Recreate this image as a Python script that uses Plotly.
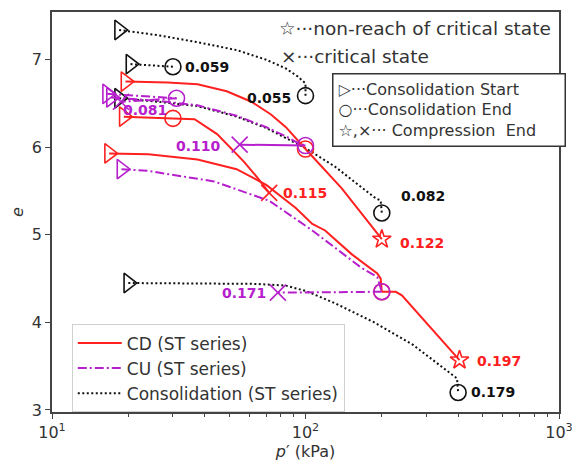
import numpy as np
import plotly.graph_objects as go

RED = "#ff2020"
PURPLE = "#b620cc"
BLACK = "#111111"

# ---- consolidation paths (black dotted), p' in kPa, e ----
cons1_p = [18.4, 26.2, 37.5, 53.5, 70.0, 83.7, 93.1, 98.2, 100.0, 100.0]
cons1_e = [7.34, 7.28, 7.20, 7.11, 7.00, 6.90, 6.81, 6.75, 6.73, 6.59]
cons2_p = [20.4, 30.0]
cons2_e = [6.95, 6.92]
cons3_p = [18.4, 26.2, 37.5, 53.5, 70.0, 83.7, 100.0, 130.6, 163.0, 186.7, 198.0, 200.0]
cons3_e = [6.56, 6.52, 6.47, 6.35, 6.22, 6.10, 5.99, 5.78, 5.56, 5.43, 5.39, 5.25]
cons4_p = [20.0, 37.5, 64.0, 83.7, 100.0, 130.6, 186.7, 266.6, 333.0, 381.0, 396.0, 400.0]
cons4_e = [4.45, 4.44, 4.44, 4.42, 4.36, 4.22, 4.00, 3.74, 3.53, 3.40, 3.36, 3.20]

# ---- CD tests (red solid) ----
cd1_cons_p = [19.5, 28.6, 37.5, 48.9, 61.2, 73.1, 83.7, 93.1, 100.0]
cd1_cons_e = [6.75, 6.74, 6.72, 6.64, 6.52, 6.375, 6.23, 6.08, 5.98]
cd1_shear_p = [100.0, 139.0, 200.0]
cd1_shear_e = [5.98, 5.53, 4.95]

cd2_cons_p = [19.2, 30.0]
cd2_cons_e = [6.35, 6.33]
cd2_shear_p = [30.0, 36.5, 44.8, 57.0, 65.2, 71.9]
cd2_shear_e = [6.33, 6.32, 6.15, 5.84, 5.64, 5.48]

cd3_cons_p = [16.8, 24.0, 37.5, 43.6, 53.5, 70.0, 91.3, 106.4, 119.5, 152.0, 191.9, 198.0, 200.0]
cd3_cons_e = [5.93, 5.92, 5.86, 5.81, 5.75, 5.57, 5.31, 5.125, 5.05, 4.78, 4.56, 4.50, 4.35]
cd3_shear_p = [200.0, 227.0, 240.0, 313.0, 405.0]
cd3_shear_e = [4.35, 4.35, 4.31, 3.94, 3.57]

# ---- CU tests (purple dash-dot) ----
cu1_cons_p = [16.5, 31.0]
cu1_cons_e = [6.61, 6.56]
cu1_shear_p = [31.0, 18.7]
cu1_shear_e = [6.56, 6.52]

cu2_cons_p = [17.1, 26.2, 37.5, 53.5, 70.0, 83.7, 93.1, 100.0]
cu2_cons_e = [6.57, 6.53, 6.48, 6.36, 6.23, 6.125, 6.05, 6.02]
cu2_shear_p = [100.0, 55.0]
cu2_shear_e = [6.02, 6.03]

cu3_cons_p = [18.8, 24.0, 43.6, 71.9, 106.4, 166.0, 191.9, 200.0]
cu3_cons_e = [5.75, 5.73, 5.61, 5.39, 5.05, 4.625, 4.52, 4.35]
cu3_shear_p = [200.0, 77.8]
cu3_shear_e = [4.35, 4.34]

# ---- index labels: text, p', e, anchor, colour ----
label_text = ["0.059", "0.055", "0.082", "0.179", "0.122", "0.197", "0.115", "0.110", "0.171", "0.081"]
label_p = [33.0, 89.1, 233.0, 443.0, 231.0, 468.0, 80.0, 47.2, 71.3, 23.3]
label_e = [6.92, 6.56, 5.44, 3.205, 4.91, 3.557, 5.48, 6.02, 4.34, 6.43]
label_anchor = ["left", "right", "left", "left", "left", "left", "left", "right", "right", "center"]
label_color = [BLACK, BLACK, BLACK, BLACK, RED, RED, RED, PURPLE, PURPLE, PURPLE]

fig = go.Figure()

DOT = "2px,2.5px"
DASHDOT = "9px,3px,2px,3px"


def path(p, e, color, dash):
    fig.add_trace(go.Scatter(x=p, y=e, mode="lines", showlegend=False,
                             line=dict(color=color, width=2, dash=dash),
                             hoverinfo="skip"))


def marker(p, e, color, symbol, size):
    fig.add_trace(go.Scatter(x=[p], y=[e], mode="markers", showlegend=False,
                             marker=dict(symbol=symbol, size=size, color=color,
                                         line=dict(color=color, width=1.6)),
                             hoverinfo="skip"))


# consolidation lines
for p, e in [(cons1_p, cons1_e), (cons2_p, cons2_e), (cons3_p, cons3_e), (cons4_p, cons4_e)]:
    path(p, e, BLACK, DOT)
    marker(p[0], e[0], BLACK, "triangle-right-open", 17)
    marker(p[-1], e[-1], BLACK, "circle-open", 16)

# CD lines
for cp, ce, sp, se, end_sym in [(cd1_cons_p, cd1_cons_e, cd1_shear_p, cd1_shear_e, "star-open"),
                                (cd2_cons_p, cd2_cons_e, cd2_shear_p, cd2_shear_e, "x-thin-open"),
                                (cd3_cons_p, cd3_cons_e, cd3_shear_p, cd3_shear_e, "star-open")]:
    path(cp, ce, RED, "solid")
    path(sp, se, RED, "solid")
    marker(cp[0], ce[0], RED, "triangle-right-open", 17)
    marker(cp[-1], ce[-1], RED, "circle-open", 16)
    marker(sp[-1], se[-1], RED, end_sym, 14 if end_sym == "star-open" else 16)

# CU lines
for cp, ce, sp, se in [(cu1_cons_p, cu1_cons_e, cu1_shear_p, cu1_shear_e),
                       (cu2_cons_p, cu2_cons_e, cu2_shear_p, cu2_shear_e),
                       (cu3_cons_p, cu3_cons_e, cu3_shear_p, cu3_shear_e)]:
    path(cp, ce, PURPLE, DASHDOT)
    path(sp, se, PURPLE, DASHDOT if sp is not cu2_shear_p else "solid")
    marker(cp[0], ce[0], PURPLE, "triangle-right-open", 17)
    marker(cp[-1], ce[-1], PURPLE, "circle-open", 16)
    marker(sp[-1], se[-1], PURPLE, "x-thin-open", 16)

# legend entries
fig.add_trace(go.Scatter(x=[None], y=[None], mode="lines", name="CD (ST series)",
                         line=dict(color=RED, width=2)))
fig.add_trace(go.Scatter(x=[None], y=[None], mode="lines", name="CU (ST series)",
                         line=dict(color=PURPLE, width=2, dash=DASHDOT)))
fig.add_trace(go.Scatter(x=[None], y=[None], mode="lines", name="Consolidation (ST series)",
                         line=dict(color=BLACK, width=2, dash=DOT)))

annotations = []
for t, p, e, a, c in zip(label_text, label_p, label_e, label_anchor, label_color):
    annotations.append(dict(x=np.log10(p), y=e, xref="x", yref="y", text=t, showarrow=False,
                            xanchor=a, yanchor="middle",
                            font=dict(family="DejaVu Sans", size=14, color=c, weight="bold")))

KEY_FONT = dict(family="DejaVu Sans", size=18.5, color="#333333")
annotations.append(dict(x=0.443, y=0.958, xref="paper", yref="paper", xanchor="left",
                        yanchor="middle", showarrow=False, font=KEY_FONT,
                        text="☆···non-reach of critical state"))
annotations.append(dict(x=0.447, y=0.888, xref="paper", yref="paper", xanchor="left",
                        yanchor="middle", showarrow=False, font=KEY_FONT,
                        text="×···critical state"))
annotations.append(dict(x=1.013, y=0.848, xref="paper", yref="paper", xanchor="right",
                        yanchor="top", showarrow=False, align="left",
                        bordercolor="#333333", borderwidth=1.5, borderpad=5,
                        bgcolor="white", width=221,
                        font=dict(family="DejaVu Sans", size=16, color="#333333"),
                        text="▷···Consolidation Start<br>○···Consolidation End<br>☆,×··· Compression  End"))

minor_vals = [v * m for m in (10, 100) for v in range(2, 10)]

fig.update_layout(
    width=583, height=468,
    margin=dict(l=52, r=16, t=10, b=56),
    plot_bgcolor="white", paper_bgcolor="white",
    font=dict(family="DejaVu Sans", color="#333333"),
    annotations=annotations,
    legend=dict(x=0.039, y=0.219, xanchor="left", yanchor="top",
                bgcolor="rgba(255,255,255,0.85)", bordercolor="#d0d0d0", borderwidth=1,
                font=dict(family="DejaVu Sans", size=17, color="#333333"),
                tracegroupgap=0, itemwidth=44),
    xaxis=dict(type="log", range=[1, 3], showgrid=False, zeroline=False,
               showline=True, mirror=True, linecolor="#444444", linewidth=1.5,
               ticks="outside", ticklen=5, tickwidth=1.2, tickcolor="#444444",
               tickvals=[10, 100, 1000],
               ticktext=["10<sup>1</sup>", "10<sup>2</sup>", "10<sup>3</sup>"],
               tickfont=dict(family="DejaVu Sans", size=16, color="#333333"),
               minor=dict(tickvals=minor_vals, ticks="outside", ticklen=3,
                          tickcolor="#444444", tickwidth=1),
               title=dict(text="<i>p</i>′ (kPa)", font=dict(family="DejaVu Sans", size=16, color="#333333"), standoff=4)),
    yaxis=dict(range=[2.977, 7.545], showgrid=False, zeroline=False,
               showline=True, mirror=True, linecolor="#444444", linewidth=1.5,
               ticks="outside", ticklen=5, tickwidth=1.2, tickcolor="#444444",
               tickvals=[3, 4, 5, 6, 7], tickfont=dict(family="DejaVu Sans", size=16, color="#333333"),
               title=dict(text="<i>e</i>", font=dict(family="DejaVu Sans", size=16, color="#333333"), standoff=4)),
)

fig.write_html("out.html")
